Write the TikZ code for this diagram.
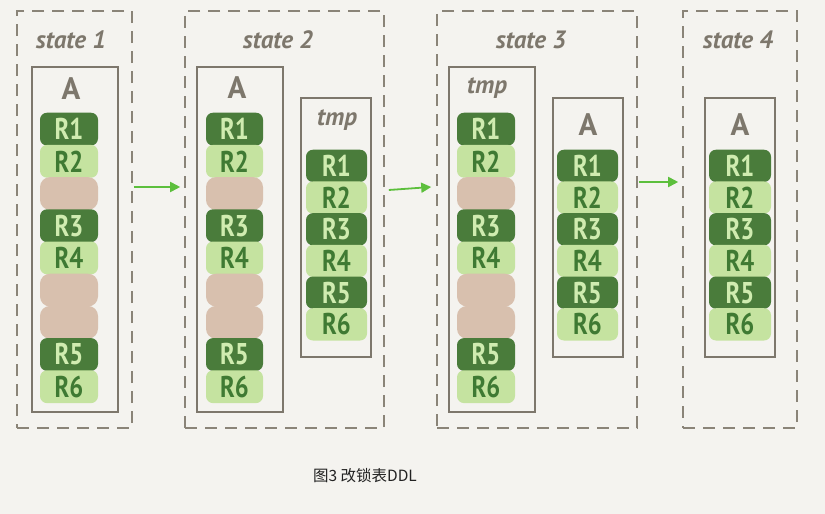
\documentclass[tikz,border=0pt]{standalone}
\usepackage{fontspec}
\setmainfont{PT Sans}
\newfontfamily\blkfont[FakeStretch=0.82]{PT Sans}
\newfontfamily\cjkfont{Noto Sans CJK SC}
\usetikzlibrary{arrows.meta}
\definecolor{bg}{HTML}{F4F3EF}
\definecolor{dkg}{HTML}{4A7C3B}
\definecolor{ltg}{HTML}{C5E3A0}
\definecolor{tanc}{HTML}{D8C0AE}
\definecolor{dktxt}{HTML}{3F7A33}
\definecolor{lttxt}{HTML}{D0ECB0}
\definecolor{framec}{HTML}{7D776C}
\definecolor{dashc}{HTML}{8A8478}
\definecolor{arrowg}{HTML}{5CBF3C}
\definecolor{capc}{HTML}{222222}
\tikzset{
  x=1pt, y=-1pt,
  statebox/.style={draw=dashc, line width=1.6pt, dash pattern=on 12pt off 8pt, inner sep=0pt, minimum width=#1, minimum height=417pt},
  tablebox/.style={draw=framec, line width=1.6pt, inner sep=0pt, minimum width=#1},
  statelabel/.style={text=framec, font=\fontsize{25}{27}\selectfont\bfseries\itshape},
  tablelabel/.style={text=framec, font=\fontsize{31}{33}\selectfont\bfseries},
  tmplabel/.style={text=framec, font=\fontsize{25}{27}\selectfont\bfseries\itshape},
  blkbase/.style={rounded corners=7pt, inner sep=0pt, minimum width=#1, font=\blkfont\fontsize{30}{32}\selectfont\bfseries},
  blkd/.style={blkbase=#1, fill=dkg, text=lttxt},
  blkl/.style={blkbase=#1, fill=ltg, text=dktxt},
  blkt/.style={blkbase=#1, fill=tanc, rounded corners=10pt},
  flow/.style={draw=arrowg, line width=1.8pt, -{Triangle[length=10pt,width=10pt]}},
  caption/.style={text=capc, font=\cjkfont\fontsize{15.5}{17}\selectfont}
}
\begin{document}
\begin{tikzpicture}
\fill[bg] (0,0) rectangle (825,514);
\useasboundingbox (0,0) rectangle (825,514);

% state boxes
\node[statebox=115pt] (s1) at (74.5,219.5) {};
\node[statebox=199pt] (s2) at (284.5,219.5) {};
\node[statebox=200pt] (s3) at (537,219.5) {};
\node[statebox=114pt] (s4) at (740,219.5) {};

\node[statelabel] (l1) at (71,40) {state 1};
\node[statelabel] (l2) at (278,40) {state 2};
\node[statelabel] (l3) at (531,40) {state 3};
\node[statelabel] (l4) at (738,40) {state 4};

% table boxes
\node[tablebox=86pt, minimum height=345pt] (t1) at (75,239.5) {};
\node[tablebox=86pt, minimum height=345pt] (t2a) at (240,239.5) {};
\node[tablebox=70pt, minimum height=259pt] (t2b) at (336,227.5) {};
\node[tablebox=86pt, minimum height=345pt] (t3a) at (492,239.5) {};
\node[tablebox=70pt, minimum height=259pt] (t3b) at (588,227.5) {};
\node[tablebox=70pt, minimum height=259pt] (t4) at (740,227.5) {};

\node[tablelabel] (n1) at (71,89) {A};
\node[tablelabel] (n2a) at (237,88) {A};
\node[tmplabel] (n2b) at (337,120) {tmp};
\node[tmplabel] (n3a) at (487,88) {tmp};
\node[tablelabel] (n3b) at (588,125) {A};
\node[tablelabel] (n4) at (740,125) {A};

% long columns (9 blocks)
\foreach \col/\cx/\w in {c1/69/58, c2/234.5/57, c3/486/58}{
  \foreach \k/\kind/\lab in {1/d/R1,2/l/R2,3/t/,4/d/R3,5/l/R4,6/t/,7/t/,8/d/R5,9/l/R6}{
    \node[blk\kind=\w pt, minimum height=32.8pt] (\col b\k) at (\cx,{113+32.2*(\k-0.5)}) {\lab};
  }
}
% short columns (6 blocks)
\foreach \col/\cx/\w in {c2t/336.5/61, c3t/587.5/61, c4/740/62}{
  \foreach \k/\kind/\lab in {1/d/R1,2/l/R2,3/d/R3,4/l/R4,5/d/R5,6/l/R6}{
    \node[blk\kind=\w pt, minimum height=32.3pt] (\col b\k) at (\cx,{150+31.7*(\k-0.5)}) {\lab};
  }
}

% arrows
\draw[flow] ([xshift=1pt,yshift=32.5pt]s1.east) -- ([xshift=-4pt,yshift=32.5pt]s2.west);
\draw[flow] ([xshift=4pt,yshift=29.5pt]s2.east) -- ([xshift=-5pt,yshift=32.5pt]s3.west);
\draw[flow] ([xshift=1pt,yshift=37.5pt]s3.east) -- ([xshift=-4pt,yshift=37.5pt]s4.west);

\node[caption] (cap) at (365,476) {图3 改锁表DDL};
\end{tikzpicture}
\end{document}
